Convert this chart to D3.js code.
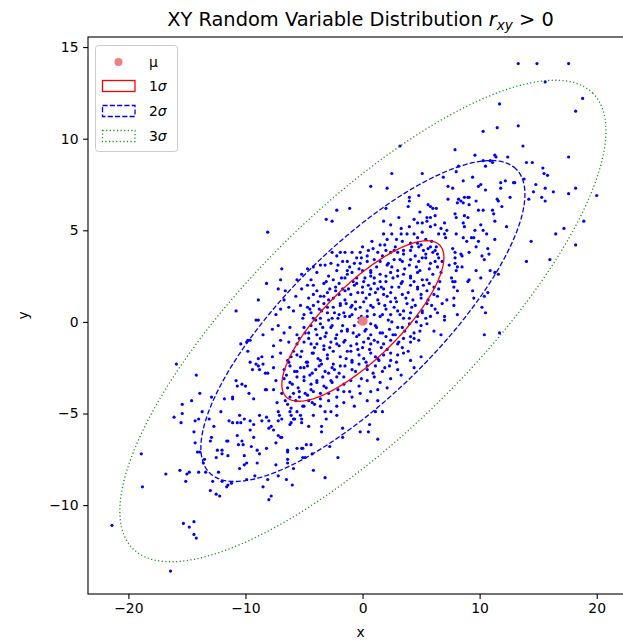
<!DOCTYPE html>
<html><head><meta charset="utf-8">
<script src="https://cdn.jsdelivr.net/npm/d3@7"></script>
<style>
body{margin:0;background:#fff}
svg{display:block}
text{font-family:"DejaVu Sans",sans-serif;fill:#000}
</style>
</head><body>
<svg id="chart" width="623" height="644"></svg>
<script>
// ---------- data ----------
const xTicks = [-20, -10, 0, 10, 20];
const xTickLabels = ["\u221220", "\u221210", "0", "10", "20"];
const yTicks = [-10, -5, 0, 5, 10, 15];
const yTickLabels = ["\u221210", "\u22125", "0", "5", "10", "15"];
const meanPoint = [0.03, 0.05];
const sigmaX = 6.92, sigmaY = 4.38, pearson = 0.79;
const sigmaLevels = [1, 2, 3];
const legendLabels = ["\u03bc", "1", "2", "3"];

// points, lower-left tail
const ptsLowerLeft = [[-16.1,-5.2],[-15.4,-5.0],[-15.5,-5.5],[-13.7,-4.9],[-14.3,-5.4],[-14.0,-5.3],[-13.1,-5.3],[-12.1,-4.9],[-14.4,-6.0],[-12.7,-5.7],[-11.4,-5.4],[-11.1,-5.5],[-10.7,-5.5],[-10.4,-5.5],[-10.5,-5.1],[-10.1,-5.3],[-9.6,-5.4],[-9.3,-5.6],[-8.8,-5.1],[-8.6,-5.4],[-8.2,-5.2],[-8.0,-5.4],[-8.0,-5.8],[-9.6,-5.9],[-10.7,-6.2],[-9.3,-6.3],[-12.9,-6.3],[-13.0,-6.5],[-11.6,-6.5],[-11.5,-6.5],[-10.3,-6.5],[-10.2,-6.7],[-10.6,-6.7],[-14.3,-6.6],[-14.1,-7.1],[-13.9,-7.1],[-12.4,-7.0],[-12.0,-7.0],[-12.0,-7.2],[-11.5,-7.3],[-10.1,-7.3],[-12.5,-7.4],[-13.5,-7.5],[-13.6,-7.7],[-9.5,-6.8],[-9.0,-7.0],[-8.8,-7.2],[-8.2,-6.9],[-9.9,-7.7],[-10.1,-7.8],[-10.5,-8.0],[-9.0,-7.7],[-18.9,-7.2],[-16.8,-8.3],[-15.6,-8.1],[-15.0,-8.3],[-14.8,-8.2],[-15.1,-8.7],[-14.0,-8.2],[-13.4,-8.2],[-12.3,-8.2],[-12.8,-8.7],[-12.0,-8.7],[-11.6,-9.0],[-11.5,-8.9],[-11.2,-8.8],[-9.9,-8.6],[-9.2,-8.4],[-8.1,-8.6],[-8.5,-9.0],[-8.0,-9.7],[-13.0,-9.2],[-12.5,-9.4],[-12.2,-9.5],[-18.8,-9.0],[-21.4,-11.1],[-15.3,-11.0],[-14.8,-11.2],[-14.4,-10.9],[-14.4,-11.6],[-14.2,-11.8],[-16.4,-13.6]];
// points, left side
const ptsLeft = [[-8.1,4.9],[-8.2,2.1],[-8.9,1.2],[-10.8,0.6],[-9.1,0.1],[-8.9,0.1],[-8.5,-0.7],[-9.6,-1.0],[-9.9,-1.1],[-9.8,-1.0],[-9.8,-1.6],[-10.4,-1.2],[-15.9,-2.3],[-14.2,-2.9],[-9.6,-2.2],[-9.1,-2.3],[-8.9,-2.0],[-8.6,-1.9],[-8.5,-2.3],[-8.9,-2.4],[-9.4,-2.6],[-8.8,-2.6],[-8.3,-2.8],[-8.1,-2.8],[-10.8,-3.2],[-10.7,-3.5],[-10.3,-3.4],[-10.0,-3.5],[-9.7,-3.9],[-9.3,-4.2],[-8.3,-3.7],[-8.2,-3.7],[-13.9,-3.9],[-15.4,-4.5],[-14.6,-4.3],[-12.9,-4.1],[-11.8,-4.2],[-11.1,-4.2],[-11.1,-4.1]];
// points, upper middle
const ptsUpper = [[3.2,9.6],[2.5,8.1],[5.1,8.1],[6.9,7.9],[0.7,7.4],[2.1,7.3],[7.3,7.4],[4.8,6.9],[4.0,6.8],[4.0,6.6],[7.3,6.7],[-2.2,6.1],[-1.1,6.2],[2.0,6.2],[3.9,6.3],[5.6,6.4],[5.8,6.3],[6.0,6.2],[6.3,6.2],[4.9,6.0],[-3.1,5.6],[3.1,5.7],[4.4,5.6],[5.5,5.7],[5.8,5.7],[6.2,5.8]];
// points, upper-right tail
const ptsUpperRight = [[13.3,14.1],[14.9,14.1],[17.6,14.1],[15.6,13.1],[18.8,12.2],[18.2,11.5],[11.7,11.9],[10.3,10.4],[11.5,10.6],[13.3,10.7],[13.7,9.6],[7.9,9.4],[9.6,9.1],[11.3,9.1],[11.4,9.0],[12.4,9.0],[17.6,9.0],[10.3,8.8],[10.5,8.5],[10.9,8.8],[11.1,8.7],[14.0,8.7],[14.5,8.7],[8.2,8.5],[8.0,8.2],[15.4,8.4],[15.5,8.1],[15.8,8.0],[8.6,7.7],[9.4,7.9],[9.9,7.4],[10.1,7.5],[10.5,7.2],[11.8,7.6],[11.8,7.3],[12.2,7.7],[12.9,7.6],[13.0,7.6],[13.8,7.8],[14.8,7.5],[15.6,7.3],[16.3,7.1],[14.6,7.1],[17.6,7.0],[18.2,7.3],[20.0,6.9],[12.6,6.8],[14.2,6.7],[15.3,6.8],[15.6,6.6],[7.7,7.3],[8.2,6.7],[8.1,6.5],[8.4,6.6],[8.7,6.8],[9.0,6.8],[9.1,6.8],[8.6,6.5],[9.1,6.4],[9.7,6.6],[11.5,6.7],[11.6,6.6],[11.9,6.3],[9.9,6.1],[10.3,6.1],[11.1,6.1],[11.2,5.9],[7.9,5.9],[8.0,5.7],[8.7,5.8],[9.0,5.7]];
// points, right side
const ptsRight = [[18.9,5.5],[17.2,5.1],[16.5,4.8],[18.2,4.2],[14.4,4.4],[14.0,3.3],[16.0,3.4],[12.3,5.2],[11.3,5.5],[10.1,5.3],[8.6,5.4],[8.7,5.2],[8.0,4.8],[8.6,4.6],[8.9,4.4],[9.3,4.6],[9.5,4.6],[9.6,5.0],[10.3,5.0],[10.6,4.8],[9.9,4.4],[9.7,4.1],[11.3,4.5],[10.7,4.0],[10.8,3.7],[10.2,3.6],[10.4,3.4],[7.7,4.0],[7.9,3.8],[8.4,3.7],[8.5,3.6],[9.1,3.8],[7.9,3.5],[7.9,3.2],[8.0,2.8],[8.1,3.0],[8.5,3.0],[9.7,2.8],[10.9,2.8],[11.3,2.7],[11.6,2.6],[10.1,2.4],[9.1,2.3],[9.0,2.2],[7.6,2.4],[7.7,2.2],[7.9,2.2],[7.8,1.9],[8.1,1.7],[9.4,1.7],[9.5,1.3],[10.4,1.4],[10.7,1.6],[7.8,1.3],[7.8,0.9],[10.2,0.8],[10.5,0.5],[8.1,0.4],[10.4,-0.7],[11.7,-0.6]];
// points, lower middle
const ptsLower = [[-7.2,-4.9],[-7.1,-5.1],[-6.2,-4.9],[-6.1,-5.1],[-5.3,-5.1],[-4.2,-5.1],[-3.2,-4.9],[-3.1,-5.3],[-2.7,-4.9],[-2.2,-5.1],[1.1,-4.9],[1.7,-4.9],[-6.9,-5.3],[-7.2,-5.4],[-7.6,-5.9],[-7.8,-5.7],[-5.9,-5.3],[-5.8,-5.3],[-5.2,-5.3],[-5.2,-5.5],[-6.1,-5.5],[-6.2,-5.6],[-4.6,-5.7],[-3.5,-5.7],[-3.5,-6.0],[-1.7,-5.8],[-1.7,-6.3],[0.6,-5.6],[-0.2,-6.0],[0.5,-6.0],[1.3,-6.4],[-7.2,-6.2],[-6.9,-6.3],[-7.0,-6.3],[-7.4,-6.6],[-6.4,-7.0],[-6.4,-7.1],[-5.6,-6.9],[-5.2,-6.9],[-5.1,-6.9],[-4.8,-6.7],[-4.4,-6.7],[-2.8,-6.8],[-5.1,-7.4],[-4.9,-7.4],[-4.3,-7.2],[-6.4,-7.5],[-7.4,-7.8],[-6.4,-7.7],[-5.9,-8.0],[-4.2,-8.1],[-2.1,-7.4],[-3.2,-8.5],[-7.2,-8.4],[-6.5,-8.6],[-6.0,-8.9],[-7.8,-9.5]];
// points, core (upper half)
const ptsCoreTop = [[-2.6,5.5],[1.8,5.5],[2.4,5.3],[3.3,5.1],[4.0,5.2],[4.7,5.4],[5.1,5.4],[5.5,5.5],[5.8,5.2],[6.2,5.3],[6.7,5.1],[7.0,4.8],[6.5,4.8],[4.4,4.8],[3.8,4.8],[5.1,4.9],[3.3,4.8],[2.5,4.8],[1.8,4.8],[7.0,5.4],
[0.8,4.4],[1.5,4.2],[2.1,4.5],[2.8,4.1],[3.4,4.4],[4.1,4.3],[4.7,4.6],[5.2,3.9],[5.8,4.1],[6.2,3.9],[6.0,3.8],[6.4,3.7],[5.4,4.5],[4.8,4.1],[4.1,3.9],[3.5,3.9],[3.0,3.8],[2.4,3.8],[2.0,3.9],[1.3,3.8],[0.5,3.9],[0.0,4.1],[-0.2,3.8],[-0.5,3.5],[-0.9,3.8],[-1.5,3.8],[-1.9,3.8],[-2.2,3.6],[-2.6,3.8],[-2.7,3.2],[-3.2,3.1],[-3.6,3.1],[-4.2,3.0],[-4.7,2.9],[-5.2,2.6],[-5.6,2.3],[-6.9,2.9],[-4.4,2.3],[-3.9,2.7],[6.8,3.3],[7.4,3.1],[7.1,4.6],[7.2,5.0],[-1.7,3.3],[-1.3,3.3],[-0.7,3.2],[-0.2,3.2],[0.4,3.3],[1.0,3.4],[1.5,3.3],[2.1,3.1],[2.7,3.4],[3.4,3.3],[4.1,3.4],[4.8,3.3],[5.4,3.5],[5.8,3.2],[6.4,3.0],[6.7,2.7],
[-7.0,2.3],[-7.2,1.8],[-6.6,1.7],[-5.7,1.4],[-5.2,1.8],[-4.7,2.0],[-4.2,2.0],[-3.9,1.7],[-3.3,2.1],[-2.9,2.5],[-2.5,2.3],[-2.0,2.1],[-1.5,2.4],[-0.9,2.7],[-0.5,2.4],[0.1,2.2],[0.7,2.5],[1.0,2.1],[1.5,2.2],[2.0,2.5],[2.4,2.7],[3.0,2.8],[3.5,2.6],[4.1,2.4],[4.7,2.7],[5.1,2.3],[5.7,2.1],[6.1,1.9],[6.5,1.8],[5.5,1.7],[4.7,1.9],[4.1,2.0],[3.3,2.1],[2.5,1.9],[1.8,1.8],[1.3,1.8],[0.7,1.8],[0.0,1.9],[-0.7,2.0],[-1.2,1.8],[-1.7,1.8],[-2.3,1.7],[-3.0,1.6],[-3.6,1.4],[-4.2,1.5],[-4.6,1.3],[0.7,2.8],[0.0,2.8],[-1.3,2.8],[-2.2,2.8],
[-6.7,1.2],[-6.3,0.8],[-5.9,0.6],[-5.3,0.9],[-5.0,0.4],[-4.7,0.8],[-4.2,0.9],[-3.7,0.7],[-3.3,1.0],[-2.9,1.2],[-2.5,0.8],[-1.9,1.0],[-1.5,1.2],[-1.0,0.8],[-0.6,1.1],[-0.2,0.8],[0.3,1.3],[0.7,0.9],[1.3,1.2],[1.8,1.5],[2.4,1.1],[2.8,1.3],[3.4,1.5],[3.8,1.0],[4.3,1.2],[5.0,1.3],[5.5,1.0],[6.2,0.7],[6.8,1.0],[7.2,1.2],[6.4,0.5],[7.0,0.3],[5.8,0.3],[5.1,0.6],[4.7,0.3],[4.1,0.5],[3.5,0.2],[3.0,0.6],[2.4,0.4],[2.0,0.7],[1.5,0.3],[1.0,0.4],[0.4,0.3],[-0.3,0.2],[-0.9,0.4],[-1.5,0.3],[-2.0,0.4],[-2.6,0.2],[-3.0,0.5],[-3.6,0.2],[-4.2,0.2],[-4.4,0.5],[-7.0,0.7],[-7.4,0.4]];
// points, core (lower half)
const ptsCoreBottom = [[-7.7,-0.4],[-7.2,-0.2],[-6.7,-0.6],[-6.2,-0.3],[-5.6,-0.7],[-5.0,-0.3],[-4.6,-0.6],[-4.0,-0.4],[-3.6,-0.1],[-3.2,-0.8],[-2.7,-0.3],[-2.2,-0.7],[-1.7,-0.2],[-1.3,-0.5],[-0.7,-0.2],[-0.3,-0.7],[0.3,-0.4],[0.7,-0.7],[1.1,-0.2],[1.7,-0.6],[2.3,-0.4],[2.8,-0.7],[3.4,-0.3],[4.0,-0.1],[4.4,-0.6],[5.0,-0.2],[5.5,-0.1],[6.1,-0.5],[6.7,-0.7],[7.0,0.1],[4.8,-1.0],[4.1,-1.1],[3.5,-0.9],[3.0,-1.2],[2.4,-1.0],[1.8,-1.2],[1.3,-1.1],[0.7,-1.2],[0.1,-1.1],[-0.5,-1.2],[-1.0,-1.3],[-1.6,-1.1],[-2.2,-1.2],[-2.7,-1.1],[-3.3,-1.3],[-3.9,-1.2],[-4.4,-1.2],[-5.0,-1.1],[-5.6,-1.2],[-6.3,-1.1],[-7.0,-1.0],[-7.6,-1.3],
[-7.7,-1.9],[-7.0,-1.7],[-6.4,-2.1],[-5.9,-1.6],[-5.3,-1.9],[-4.7,-2.2],[-4.2,-1.7],[-3.6,-2.1],[-3.0,-1.8],[-2.5,-2.3],[-1.9,-1.9],[-1.3,-1.6],[-0.9,-2.1],[-0.3,-1.8],[0.3,-2.2],[0.7,-1.7],[1.3,-2.0],[1.8,-1.8],[2.4,-2.1],[3.0,-1.8],[3.5,-1.7],[4.1,-2.1],[5.0,-1.9],[-7.6,-2.5],[-6.7,-2.6],[-6.2,-2.4],[-5.6,-2.7],[-5.0,-2.5],[-4.3,-2.8],[-3.7,-2.4],[-3.2,-2.7],[-2.6,-2.5],[-2.0,-2.8],[-1.5,-2.4],[-0.9,-2.6],[-0.3,-2.3],[0.4,-2.6],[1.1,-2.4],[1.7,-2.7],[2.3,-2.4],[3.0,-2.6],[4.4,-2.5],
[-7.4,-3.2],[-6.7,-3.1],[-6.2,-3.3],[-5.6,-3.0],[-5.0,-3.2],[-4.4,-3.4],[-3.9,-3.2],[-3.3,-3.5],[-2.7,-3.2],[-2.2,-3.0],[-1.6,-3.4],[-1.0,-3.2],[-0.3,-3.5],[0.4,-3.2],[1.0,-3.0],[1.5,-3.3],[2.4,-3.1],[3.3,-2.9],[-7.6,-3.7],[-6.9,-3.9],[-6.2,-4.1],[-5.4,-3.8],[-4.7,-4.0],[-4.2,-3.8],[-3.6,-4.2],[-2.9,-3.9],[-2.2,-4.1],[-1.6,-3.8],[-0.9,-4.1],[-0.2,-3.9],[0.7,-3.8],[1.3,-3.7],[2.1,-3.6],[-7.3,-4.4],[-6.4,-4.5],[-5.7,-4.3],[-5.0,-4.6],[-4.3,-4.4],[-3.6,-4.6],[-2.9,-4.3],[-2.2,-4.6],[-1.6,-4.4],[-0.7,-4.6],[0.4,-4.3],[1.3,-4.3]];
// points, densest part inside the 1-sigma ellipse
const ptsCoreInner = [[-6.6,-4.3],[-6.4,-3.6],[-6.5,-2.9],[-6.3,-2.2],
[-6.1,-4.7],[-5.9,-3.9],[-6.0,-3.4],[-5.8,-2.7],[-6.1,-1.9],
[-5.6,-4.9],[-5.4,-4.1],[-5.5,-3.6],[-5.3,-2.5],[-5.6,-1.8],[-5.4,-0.9],
[-5.1,-4.6],[-4.9,-3.9],[-5.0,-3.0],[-4.8,-2.2],[-5.2,-1.6],[-4.9,-0.6],[-5.1,0.2],
[-4.6,-4.3],[-4.4,-3.7],[-4.5,-2.9],[-4.7,-2.4],[-4.3,-1.7],[-4.6,-0.9],[-4.4,-0.2],[-4.5,0.7],
[-4.1,-4.5],[-3.9,-3.3],[-4.0,-2.6],[-3.8,-2.0],[-4.1,-1.4],[-3.9,-0.7],[-4.0,0.1],[-3.8,1.1],
[-3.6,-3.9],[-3.4,-3.0],[-3.5,-2.3],[-3.3,-1.5],[-3.6,-0.9],[-3.4,-0.3],[-3.5,0.6],[-3.3,1.4],
[-3.1,-3.6],[-2.9,-2.8],[-3.0,-2.0],[-2.8,-1.4],[-3.1,-0.6],[-2.9,0.1],[-3.0,0.8],[-2.8,1.8],[-3.1,2.2],
[-2.6,-3.3],[-2.4,-2.6],[-2.5,-1.6],[-2.3,-0.9],[-2.6,-0.2],[-2.4,0.5],[-2.5,1.3],[-2.3,1.9],
[-2.1,-3.7],[-1.9,-2.4],[-2.0,-1.3],[-1.8,-0.5],[-2.1,0.2],[-1.9,0.9],[-2.0,1.5],[-1.8,2.4],[-2.1,3.1],
[-1.6,-3.0],[-1.4,-2.0],[-1.5,-1.0],[-1.3,-0.4],[-1.6,0.5],[-1.4,1.0],[-1.5,1.7],[-1.3,2.6],
[-1.1,-3.8],[-0.9,-2.2],[-1.0,-1.6],[-0.8,-0.6],[-1.1,0.3],[-0.9,0.9],[-1.0,1.5],[-0.8,2.2],[-1.1,3.0],
[-0.6,-2.7],[-0.4,-1.5],[-0.5,-0.8],[-0.3,0.0],[-0.6,0.7],[-0.4,1.6],[-0.5,2.1],[-0.3,2.9],
[-0.1,-3.1],[0.1,-2.0],[0.0,-1.4],[0.2,-0.5],[-0.1,0.3],[0.1,1.1],[0.0,1.6],[0.2,2.4],[-0.1,3.5],
[0.4,-2.4],[0.6,-1.5],[0.5,-0.9],[0.7,-0.1],[0.4,0.6],[0.6,1.5],[0.5,2.0],[0.7,2.7],[0.4,3.6],
[0.9,-2.8],[1.1,-1.9],[1.0,-1.0],[1.2,-0.3],[0.9,0.8],[1.1,1.6],[1.0,2.4],[1.2,3.0],[0.9,4.0],
[1.4,-2.1],[1.6,-1.4],[1.5,-0.6],[1.7,0.4],[1.4,1.0],[1.6,1.9],[1.5,2.6],[1.7,3.6],
[1.9,-2.5],[2.1,-1.5],[2.0,-0.8],[2.2,0.1],[1.9,0.9],[2.1,1.4],[2.0,2.2],[2.2,3.2],[1.9,4.2],
[2.4,-1.7],[2.6,-0.7],[2.5,0.0],[2.7,0.8],[2.4,1.6],[2.6,2.4],[2.5,3.0],[2.7,3.9],
[2.9,-2.2],[3.1,-1.1],[3.0,-0.3],[3.2,0.4],[2.9,1.1],[3.1,1.9],[3.0,2.5],[3.2,3.4],[2.9,4.5],
[3.4,-1.4],[3.6,-0.5],[3.5,0.6],[3.7,1.3],[3.4,2.2],[3.6,2.9],[3.5,3.7],
[3.9,-1.6],[4.1,-0.8],[4.0,0.2],[4.2,0.8],[3.9,1.6],[4.1,2.5],[4.0,3.1],[4.2,4.1],
[4.4,-0.9],[4.6,0.0],[4.5,0.9],[4.7,1.8],[4.4,2.2],[4.6,3.0],[4.5,3.6],[4.7,4.3],
[4.9,-0.5],[5.1,0.5],[5.0,1.5],[5.2,2.0],[4.9,2.8],[5.1,3.5],[5.0,4.2],
[5.4,0.2],[5.6,1.2],[5.5,2.3],[5.7,2.9],[5.4,3.7],[5.6,4.0],
[5.9,0.9],[6.1,1.5],[6.0,2.6],[6.2,3.3],[5.9,4.4],
[6.4,1.4],[6.6,2.2],[6.5,3.5],[6.3,4.1]];

const allPoints = [].concat(ptsLowerLeft, ptsLeft, ptsUpper, ptsUpperRight, ptsRight, ptsLower, ptsCoreTop, ptsCoreBottom, ptsCoreInner);

// ---------- layout ----------
const svg = d3.select("#chart");
const mL = 88, mR = 633, mT = 37, mB = 594;
const x = d3.scaleLinear().domain([-23.45, 23.1]).range([mL, mR]);
const y = d3.scaleLinear().domain([-14.85, 15.55]).range([mB, mT]);

// title
const title = svg.append("text").attr("x", (mL + mR) / 2).attr("y", 26)
  .attr("text-anchor", "middle").style("font-size", "19.4px");
title.append("tspan").text("XY Random Variable Distribution ");
title.append("tspan").style("font-style", "italic").text("r");
title.append("tspan").style("font-style", "italic").style("font-size", "13.6px").attr("dy", 4).text("xy");
title.append("tspan").attr("dy", -4).text(" > 0");

// clip
svg.append("clipPath").attr("id", "clip").append("rect")
  .attr("x", mL).attr("y", mT).attr("width", mR - mL).attr("height", mB - mT);
const plot = svg.append("g").attr("clip-path", "url(#clip)");

// scatter
plot.append("g").selectAll("circle").data(allPoints).join("circle")
  .attr("cx", d => x(d[0])).attr("cy", d => y(d[1])).attr("r", 1.6).attr("fill", "#0000ff");

// ellipses (matplotlib confidence_ellipse construction)
const rx = Math.sqrt(1 + pearson), ry = Math.sqrt(1 - pearson);
const c45 = Math.SQRT1_2;
function ellipsePoints(n) {
  return d3.range(0, 361, 1.5).map(deg => {
    const t = deg * Math.PI / 180;
    const px = rx * Math.cos(t), py = ry * Math.sin(t);
    const X = (px - py) * c45, Y = (px + py) * c45;
    return [meanPoint[0] + X * n * sigmaX, meanPoint[1] + Y * n * sigmaY];
  });
}
const ellStyles = [
  {color: "#ff0000", dash: null, w: 1.3},
  {color: "#0000ff", dash: "5.1,2.2", w: 1.3},
  {color: "#1f8f1f", dash: "1.2,2.4", w: 1.3}
];
const line = d3.line().x(d => x(d[0])).y(d => y(d[1])).curve(d3.curveLinearClosed);
sigmaLevels.forEach((n, i) => {
  plot.append("path").attr("d", line(ellipsePoints(n)))
    .attr("fill", "none").attr("stroke", ellStyles[i].color).attr("stroke-width", ellStyles[i].w)
    .attr("stroke-dasharray", ellStyles[i].dash);
});

// mean
plot.append("circle").attr("cx", x(meanPoint[0])).attr("cy", y(meanPoint[1]))
  .attr("r", 4.8).attr("fill", "#f08080");

// axes
const xAxis = d3.axisBottom(x).tickValues(xTicks).tickFormat((d, i) => xTickLabels[i])
  .tickSize(4.9).tickPadding(4.6).tickSizeOuter(0);
const gx = svg.append("g").attr("transform", `translate(0,${mB})`).call(xAxis);
const yAxis = d3.axisLeft(y).tickValues(yTicks).tickFormat((d, i) => yTickLabels[i])
  .tickSize(4.9).tickPadding(4.6).tickSizeOuter(0);
const gy = svg.append("g").attr("transform", `translate(${mL},0)`).call(yAxis);
[gx, gy].forEach(g => {
  g.select(".domain").remove();
  g.selectAll("line").attr("stroke", "#000").attr("stroke-width", 1.1);
  g.selectAll("text").style("font-size", "13.9px").style("font-family", "DejaVu Sans").attr("fill", "#000");
});

// spines
svg.append("rect").attr("x", mL).attr("y", mT).attr("width", mR - mL).attr("height", mB - mT)
  .attr("fill", "none").attr("stroke", "#000").attr("stroke-width", 1.1);

// axis labels
svg.append("text").attr("x", (mL + mR) / 2).attr("y", 637).attr("text-anchor", "middle")
  .style("font-size", "13.9px").text("x");
svg.append("text").attr("transform", `translate(28,${(mT + mB) / 2}) rotate(-90)`)
  .attr("text-anchor", "middle").style("font-size", "13.9px").text("y");

// legend
const lg = svg.append("g");
lg.append("rect").attr("x", 95.5).attr("y", 45.5).attr("width", 82).attr("height", 106).attr("rx", 3)
  .attr("fill", "#fff").attr("fill-opacity", 0.8).attr("stroke", "#cccccc").attr("stroke-width", 1);
const rowY = [62, 86, 111, 136];
lg.append("circle").attr("cx", 118.5).attr("cy", rowY[0]).attr("r", 4).attr("fill", "#f08080");
ellStyles.forEach((s, i) => {
  lg.append("rect").attr("x", 102.5).attr("y", rowY[i + 1] - 5.5).attr("width", 32.5).attr("height", 11)
    .attr("fill", "none").attr("stroke", s.color).attr("stroke-width", s.w).attr("stroke-dasharray", s.dash);
});
legendLabels.forEach((lab, i) => {
  const t = lg.append("text").attr("x", 149).attr("y", rowY[i]).attr("dy", "0.36em").style("font-size", "13.9px");
  t.append("tspan").text(lab);
  if (i > 0) t.append("tspan").style("font-style", "italic").text("\u03c3");
});
</script>
</body></html>
